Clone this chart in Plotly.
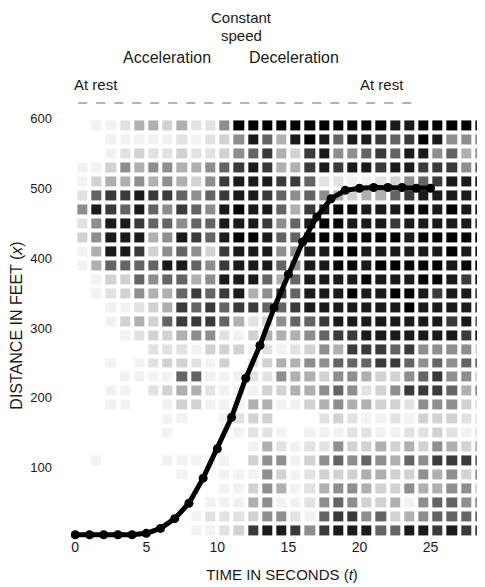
import plotly.graph_objects as go

# ---- data ----
time_s = list(range(0, 26))
distance_ft = [4, 4, 4, 4, 4, 6, 13, 27, 49, 85, 127, 172, 228, 275, 329,
               377, 423, 459, 485, 497, 500, 501, 501, 501, 500, 500]

x_ticks = [0, 5, 10, 15, 20, 25]
y_ticks = [100, 200, 300, 400, 500, 600]

# halftone screen background tone (0 = white .. 9 = black), rows from top (590 ft) to bottom (10 ft),
# one character per 1-second column (0.5 .. 29.5 s)
screen_rows = [
    "011244342259999999999988999989",
    "001111121235864898688767985553",
    "001232232235674378556768856454",
    "113545544567874478788788777566",
    "134454543578887762211235678888",
    "267787765678876565434467888888",
    "587686576589886478998889989887",
    "258876656688875689988878888876",
    "358884587689986699999998999998",
    "148873565378885588998888889888",
    "146666886578886588998999998998",
    "013365664588864688889888998786",
    "012354467678457688898899878877",
    "001123476767766788888889888876",
    "001343677764235667888888887865",
    "000123345521344456778888888788",
    "000002221333121235477767555535",
    "001012332130234455666776565666",
    "000111166111225443554335675535",
    "001102344211133445652357776455",
    "001100133111441134544332555322",
    "000000110012330002321121333221",
    "000000100011221011122112232121",
    "000000000000142122533434354343",
    "010000111110355135656546577766",
    "000000010011153123334433545354",
    "000000000011354124554335445534",
    "000000000111451125653341566554",
    "000000001222355216775634566665",
    "000000001123788757888668878778",
]
screen_t = [k + 0.5 for k in range(30)]
screen_ft = [590 - 20 * r for r in range(30)]
screen_z = [[int(c) for c in row] for row in screen_rows]

FONT = "Liberation Sans, Arial, sans-serif"
INK = "#1a1a1a"

fig = go.Figure()

fig.add_trace(go.Heatmap(
    x=screen_t, y=screen_ft, z=screen_z,
    zmin=0, zmax=9, xgap=4, ygap=4,
    colorscale=[[0, "#ffffff"], [0.111, "#f2f2f2"], [0.333, "#d2d2d2"],
                [0.556, "#8e8e8e"], [0.778, "#3a3a3a"], [0.889, "#1a1a1a"], [1, "#000000"]],
    showscale=False, hoverinfo="skip",
))

fig.add_trace(go.Scatter(
    x=time_s, y=distance_ft, mode="lines+markers",
    line=dict(color="#000000", width=5),
    marker=dict(color="#000000", size=9),
    showlegend=False,
))

def ann(text, x, y, size=16, xanchor="center"):
    fig.add_annotation(text=text, x=x, y=y, xref="paper", yref="paper",
                       showarrow=False, xanchor=xanchor, yanchor="middle",
                       font=dict(family=FONT, size=size, color=INK))

ann("Constant", 0.405, 1.214, 15)
ann("speed", 0.405, 1.173, 15)
ann("Acceleration", 0.227, 1.121, 16)
ann("Deceleration", 0.528, 1.121, 16)
ann("At rest", 0.002, 1.060, 15, "left")
ann("At rest", 0.680, 1.060, 15, "left")

fig.add_shape(type="line", xref="paper", yref="paper",
              x0=0.017, x1=0.81, y0=1.016, y1=1.016,
              line=dict(color="#9a9a9a", width=1.5, dash="dash"))

fig.update_layout(
    width=485, height=587,
    margin=dict(l=63, r=0, t=102, b=54),
    paper_bgcolor="white", plot_bgcolor="white",
    font=dict(family=FONT, color=INK),
    showlegend=False,
    xaxis=dict(range=[-0.3, 29.4], tickvals=x_ticks, showgrid=False, zeroline=False,
               showline=False, ticks="", tickfont=dict(size=14, color=INK),
               ticklabelstandoff=-4,
               title=dict(text="TIME IN SECONDS (<i>t</i>)", font=dict(size=15, color=INK), standoff=15)),
    yaxis=dict(range=[-5, 612], tickvals=y_ticks, showgrid=False, zeroline=False,
               showline=False, ticks="", tickfont=dict(size=13, color=INK),
               ticklabelstandoff=18,
               title=dict(text="DISTANCE IN FEET (<i>x</i>)", font=dict(size=16, color=INK), standoff=4)),
)

fig.write_html("out.html")
